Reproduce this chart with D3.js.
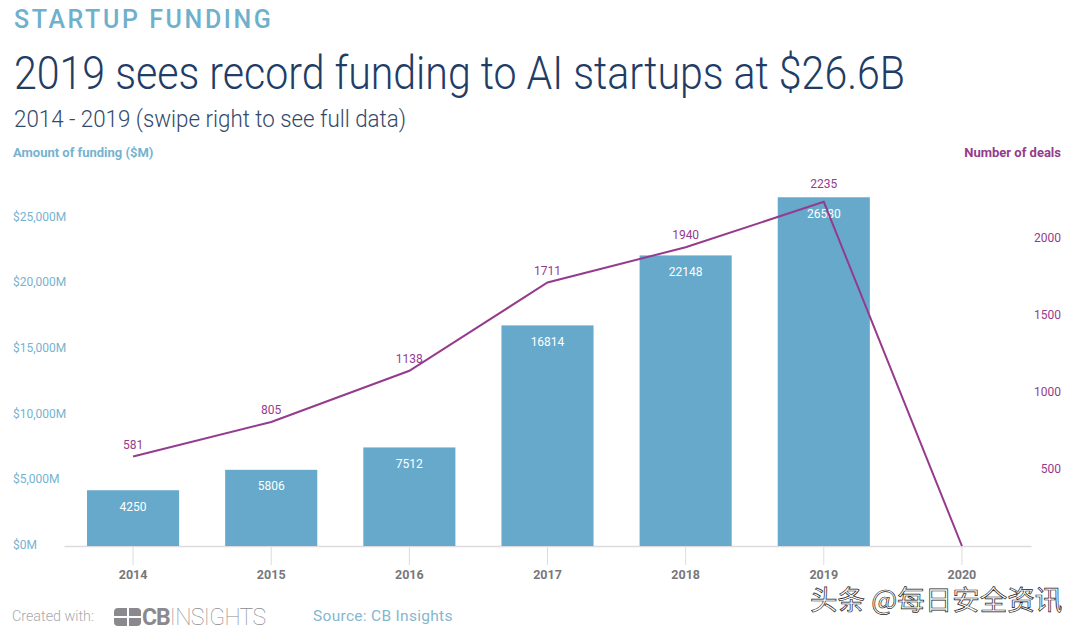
<!DOCTYPE html>
<html>
<head>
<meta charset="utf-8">
<script src="https://cdnjs.cloudflare.com/ajax/libs/d3/7.8.5/d3.min.js"></script>
<style>
  html, body { margin: 0; padding: 0; background: #fff; }
  svg { display: block; font-family: Roboto, sans-serif; }
  .axis path, .axis line { fill: none; }
</style>
</head>
<body>
<svg id="chart" width="1080" height="632"></svg>
<script>
const years = ['2014', '2015', '2016', '2017', '2018', '2019', '2020'];
const fundingYears = ['2014', '2015', '2016', '2017', '2018', '2019'];
const funding = [4250, 5806, 7512, 16814, 22148, 26580];
const deals = [581, 805, 1138, 1711, 1940, 2235, 0];
const dealLabelYears = ['2014', '2015', '2016', '2017', '2018', '2019'];
const fundingTicks = [0, 5000, 10000, 15000, 20000, 25000];
const dealTicks = [500, 1000, 1500, 2000];

const blue = '#66a9cb', lightBlue = '#76b3cf', purple = '#953b8d', navy = '#1f3d66';

const svg = d3.select('#chart');
const baseY = 546;

const x = d3.scaleBand().domain(years).range([64, 1031]).paddingInner(1 / 3).paddingOuter(1 / 6);
const yLeft = d3.scaleLinear().domain([0, 25000]).range([baseY, 218]);
const yRight = d3.scaleLinear().domain([0, 2000]).range([baseY, 238]);
const cx = d => x(d) + x.bandwidth() / 2;

// headings, the original face is narrower than Roboto so squeeze to the measured width
svg.append('text').attr('x', 14).attr('y', 28)
  .attr('fill', '#6fb0cc').attr('font-size', 25).attr('font-weight', 500)
  .attr('letter-spacing', 2.6).text('STARTUP FUNDING');
svg.append('text').attr('x', 14).attr('y', 89)
  .attr('fill', navy).attr('font-size', 46).attr('font-weight', 300)
  .attr('textLength', 891).attr('lengthAdjust', 'spacingAndGlyphs')
  .text('2019 sees record funding to AI startups at $26.6B');
svg.append('text').attr('x', 14).attr('y', 127)
  .attr('fill', '#33496c').attr('font-size', 24).attr('font-weight', 300)
  .attr('textLength', 392).attr('lengthAdjust', 'spacingAndGlyphs')
  .text('2014 - 2019 (swipe right to see full data)');
svg.append('text').attr('x', 13).attr('y', 157)
  .attr('fill', lightBlue).attr('font-size', 13).attr('font-weight', 700)
  .text('Amount of funding ($M)');
svg.append('text').attr('x', 1061).attr('y', 157).attr('text-anchor', 'end')
  .attr('fill', purple).attr('font-size', 13).attr('font-weight', 700)
  .text('Number of deals');

// x axis
const xAxis = svg.append('g').attr('class', 'axis')
  .attr('transform', `translate(0,${baseY})`)
  .call(d3.axisBottom(x).tickSizeInner(19).tickSizeOuter(0).tickPadding(5));
xAxis.select('.domain').attr('stroke', '#dcdce0').attr('stroke-width', 1.5);
xAxis.selectAll('line').attr('stroke', '#dcdce0');
xAxis.selectAll('text')
  .attr('font-family', 'Roboto, sans-serif').attr('font-size', 12.5)
  .attr('font-weight', 700).attr('fill', '#77777c');

// left axis, labels sit flush left of the plot
const leftAxis = svg.append('g').attr('class', 'axis')
  .attr('transform', 'translate(13,-1.5)')
  .call(d3.axisLeft(yLeft).tickValues(fundingTicks).tickSize(0)
    .tickFormat(d => '$' + d3.format(',')(d) + 'M'));
leftAxis.select('.domain').remove();
leftAxis.selectAll('text')
  .attr('x', 0).attr('text-anchor', 'start')
  .attr('font-family', 'Roboto, sans-serif').attr('font-size', 12)
  .attr('fill', lightBlue);

// right axis
const rightAxis = svg.append('g').attr('class', 'axis')
  .attr('transform', 'translate(1061,0)')
  .call(d3.axisRight(yRight).tickValues(dealTicks).tickSize(0).tickFormat(d3.format('d')));
rightAxis.select('.domain').remove();
rightAxis.selectAll('text')
  .attr('x', 0).attr('text-anchor', 'end')
  .attr('font-family', 'Roboto, sans-serif').attr('font-size', 12)
  .attr('fill', purple);

// bars
svg.append('g').selectAll('rect').data(funding).join('rect')
  .attr('x', (d, i) => x(fundingYears[i]))
  .attr('y', d => yLeft(d))
  .attr('width', x.bandwidth())
  .attr('height', d => baseY - yLeft(d))
  .attr('fill', blue);

svg.append('g').selectAll('text').data(funding).join('text')
  .attr('x', (d, i) => cx(fundingYears[i]))
  .attr('y', d => yLeft(d) + 20.5)
  .attr('text-anchor', 'middle')
  .attr('font-size', 12).attr('fill', '#fff')
  .text(d => d);

// deals line
const line = d3.line().x((d, i) => cx(years[i])).y(d => yRight(d));
svg.append('path').datum(deals)
  .attr('d', line).attr('fill', 'none')
  .attr('stroke', purple).attr('stroke-width', 2);

// deal labels clear both the point and the bar top
svg.append('g').selectAll('text').data(deals.slice(0, dealLabelYears.length)).join('text')
  .attr('x', (d, i) => cx(dealLabelYears[i]))
  .attr('y', (d, i) => Math.min(yRight(d) - 8, yLeft(funding[i]) - 9))
  .attr('text-anchor', 'middle')
  .attr('font-size', 12).attr('fill', purple)
  .text(d => d);

// footer
svg.append('text').attr('x', 12).attr('y', 621)
  .attr('fill', '#a9a9ad').attr('font-size', 14.3).attr('font-weight', 300)
  .text('Created with:');
const logo = svg.append('g').attr('fill', '#8a8a8e');
logo.append('rect').attr('x', 114).attr('y', 608).attr('width', 27).attr('height', 18).attr('rx', 4);
logo.append('rect').attr('x', 114).attr('y', 616).attr('width', 27).attr('height', 2).attr('fill', '#fff');
logo.append('rect').attr('x', 127).attr('y', 608).attr('width', 2).attr('height', 18).attr('fill', '#fff');
const logoText = logo.append('text').attr('x', 142).attr('y', 625).attr('font-size', 23);
logoText.append('tspan').attr('font-weight', 700).attr('letter-spacing', -1).text('CB');
logoText.append('tspan').attr('font-weight', 100).attr('letter-spacing', -0.6).text('INSIGHTS');
svg.append('text').attr('x', 313).attr('y', 621)
  .attr('fill', '#84b7d0').attr('font-size', 15.5)
  .attr('letter-spacing', 0.3).text('Source: CB Insights');

// watermark
svg.append('text').attr('x', 810).attr('y', 610)
  .attr('font-family', '"Noto Sans CJK SC", sans-serif').attr('font-size', 27.5)
  .attr('fill', '#fff').attr('stroke', '#222').attr('stroke-width', 0.7)
  .text('头条 @每日安全资讯');
</script>
</body>
</html>
